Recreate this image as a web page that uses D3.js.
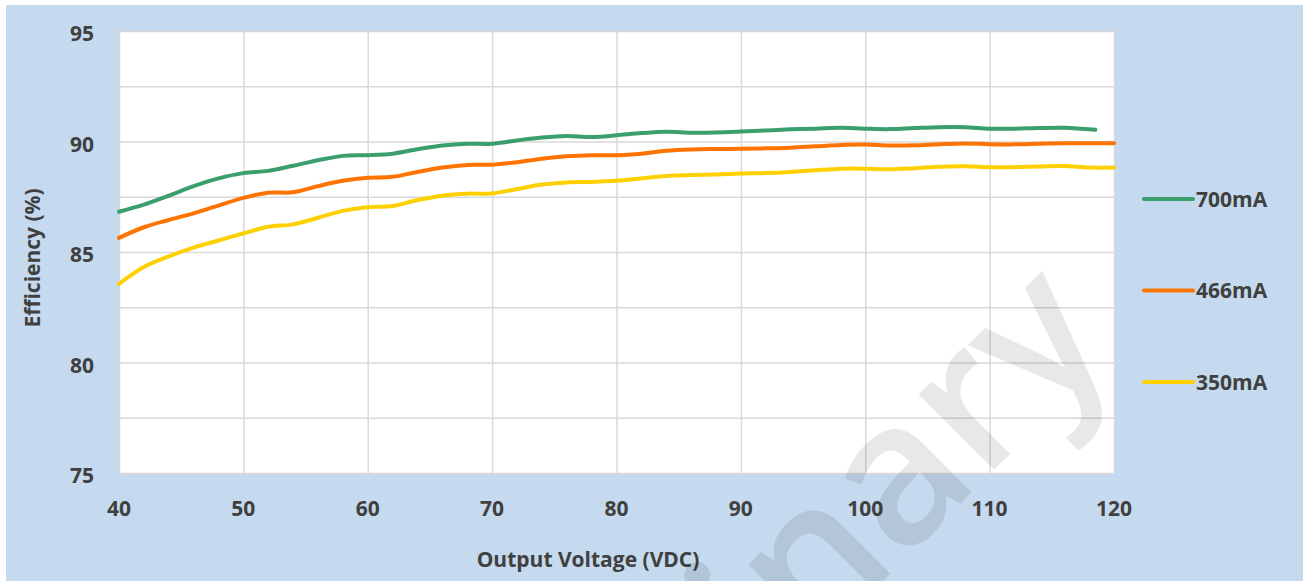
<!DOCTYPE html>
<html>
<head>
<meta charset="utf-8">
<script src="https://cdn.jsdelivr.net/npm/d3@7"></script>
<style>
  html, body { margin: 0; padding: 0; background: #fff; }
  svg { display: block; }
  text { font-family: "Open Sans", "DejaVu Sans", sans-serif; }
</style>
</head>
<body>
<svg id="chart"></svg>
<script>
// Output voltage (VDC)
const volts = [40, 42, 44, 46, 48, 50, 52, 54, 56, 58, 60, 62, 64, 66, 68, 70, 72, 74, 76, 78, 80,
  82, 84, 86, 88, 90, 92, 94, 96, 98, 100, 102, 104, 106, 108, 110, 112, 114, 116, 118, 120];
const volts700 = [40, 42, 44, 46, 48, 50, 52, 54, 56, 58, 60, 62, 64, 66, 68, 70, 72, 74, 76, 78, 80,
  82, 84, 86, 88, 90, 92, 94, 96, 98, 100, 102, 104, 106, 108, 110, 112, 114, 116, 118.5];

// Efficiency (%)
const eff700 = [86.82, 87.14, 87.55, 87.98, 88.33, 88.57, 88.67, 88.90, 89.15, 89.35, 89.38,
  89.45, 89.65, 89.82, 89.90, 89.90, 90.05, 90.18, 90.25, 90.20, 90.28,
  90.38, 90.44, 90.40, 90.41, 90.45, 90.50, 90.55, 90.58, 90.62, 90.58,
  90.56, 90.61, 90.65, 90.65, 90.58, 90.58, 90.61, 90.62, 90.53];
const eff466 = [85.64, 86.12, 86.45, 86.75, 87.10, 87.45, 87.68, 87.70, 87.98, 88.22, 88.36,
  88.40, 88.62, 88.82, 88.94, 88.95, 89.06, 89.22, 89.33, 89.38, 89.38,
  89.45, 89.58, 89.64, 89.66, 89.67, 89.69, 89.72, 89.78, 89.84, 89.86,
  89.82, 89.83, 89.88, 89.91, 89.88, 89.87, 89.90, 89.92, 89.92, 89.92];
const eff350 = [83.56, 84.32, 84.80, 85.20, 85.52, 85.84, 86.14, 86.25, 86.55, 86.86, 87.03,
  87.08, 87.35, 87.55, 87.64, 87.65, 87.85, 88.05, 88.15, 88.17, 88.22,
  88.33, 88.44, 88.48, 88.51, 88.55, 88.57, 88.62, 88.70, 88.77, 88.77,
  88.74, 88.79, 88.86, 88.88, 88.84, 88.84, 88.87, 88.89, 88.82, 88.82];

const seriesNames = ["700mA", "466mA", "350mA"];
const seriesColors = ["#3a9f6c", "#ff7300", "#ffd000"];

const xTicks = [40, 50, 60, 70, 80, 90, 100, 110, 120];
const yGrid = [75, 77.5, 80, 82.5, 85, 87.5, 90, 92.5, 95];

const width = 1303;
const height = 581;
const textColor = "#404040";

const svg = d3.select("#chart").attr("width", width).attr("height", height);

// Blue backdrop
svg.append("rect")
  .attr("x", 6).attr("y", 5)
  .attr("width", width - 6).attr("height", height - 5)
  .attr("fill", "#c5daee");

// Plot area
const x = d3.scaleLinear().domain([40, 120]).range([119, 1114]);
const y = d3.scaleLinear().domain([75, 95]).range([473, 31]);

svg.append("rect")
  .attr("x", x(40)).attr("y", y(95))
  .attr("width", x(120) - x(40)).attr("height", y(75) - y(95))
  .attr("fill", "#fff");

// Grid lines
const xGrid = svg.append("g")
  .attr("transform", `translate(0,${y(75)})`)
  .call(d3.axisBottom(x).tickValues(xTicks).tickSize(-(y(75) - y(95))).tickFormat(""));
const yGridG = svg.append("g")
  .attr("transform", `translate(${x(40)},0)`)
  .call(d3.axisLeft(y).tickValues(yGrid).tickSize(-(x(120) - x(40))).tickFormat(""));
[xGrid, yGridG].forEach((g) => {
  g.select(".domain").remove();
  g.selectAll("line").attr("stroke", "#d9d9d9").attr("stroke-width", 1.5);
});

// Tick labels
svg.append("g")
  .selectAll("text")
  .data(xTicks)
  .join("text")
  .attr("x", (d) => x(d))
  .attr("y", 516)
  .attr("text-anchor", "middle")
  .attr("font-size", 21)
  .attr("font-weight", 700)
  .attr("fill", textColor)
  .text((d) => d);

svg.append("g")
  .selectAll("text")
  .data(yGrid.filter((d) => d % 5 === 0))
  .join("text")
  .attr("x", 94)
  .attr("y", (d) => y(d) + 10)
  .attr("text-anchor", "end")
  .attr("font-size", 21)
  .attr("font-weight", 700)
  .attr("fill", textColor)
  .text((d) => d);

// Axis titles
svg.append("text")
  .attr("x", 588).attr("y", 567)
  .attr("text-anchor", "middle")
  .attr("font-size", 21).attr("font-weight", 700)
  .attr("fill", textColor)
  .text("Output Voltage (VDC)");

svg.append("text")
  .attr("transform", "translate(40,258) rotate(-90)")
  .attr("text-anchor", "middle")
  .attr("font-size", 21).attr("font-weight", 700)
  .attr("fill", textColor)
  .text("Efficiency (%)");

// Lines
const series = [
  { name: seriesNames[0], color: seriesColors[0], xs: volts700, ys: eff700 },
  { name: seriesNames[1], color: seriesColors[1], xs: volts, ys: eff466 },
  { name: seriesNames[2], color: seriesColors[2], xs: volts, ys: eff350 }
];

const line = d3.line()
  .x((d) => x(d[0]))
  .y((d) => y(d[1]))
  .curve(d3.curveCatmullRom.alpha(0.5));

svg.append("g")
  .selectAll("path")
  .data(series)
  .join("path")
  .attr("d", (s) => line(s.xs.map((v, i) => [v, s.ys[i]])))
  .attr("fill", "none")
  .attr("stroke", (s) => s.color)
  .attr("stroke-width", 4)
  .attr("stroke-linecap", "round");

// Legend
const legend = svg.append("g")
  .selectAll("g")
  .data(series)
  .join("g")
  .attr("transform", (s, i) => `translate(1144,${199 + i * 91.5})`);
legend.append("line")
  .attr("x1", 0).attr("x2", 49)
  .attr("stroke", (s) => s.color)
  .attr("stroke-width", 4)
  .attr("stroke-linecap", "round");
legend.append("text")
  .attr("x", 52).attr("y", 7.5)
  .attr("font-size", 21).attr("font-weight", 700)
  .attr("fill", textColor)
  .text((s) => s.name);

// Watermark
svg.append("text")
  .attr("transform", "translate(1118,346) rotate(-45)")
  .attr("text-anchor", "end")
  .attr("font-size", 198)
  .attr("font-weight", 600)
  .attr("fill", "#000")
  .attr("fill-opacity", 0.09)
  .text("Preliminary");
</script>
</body>
</html>
